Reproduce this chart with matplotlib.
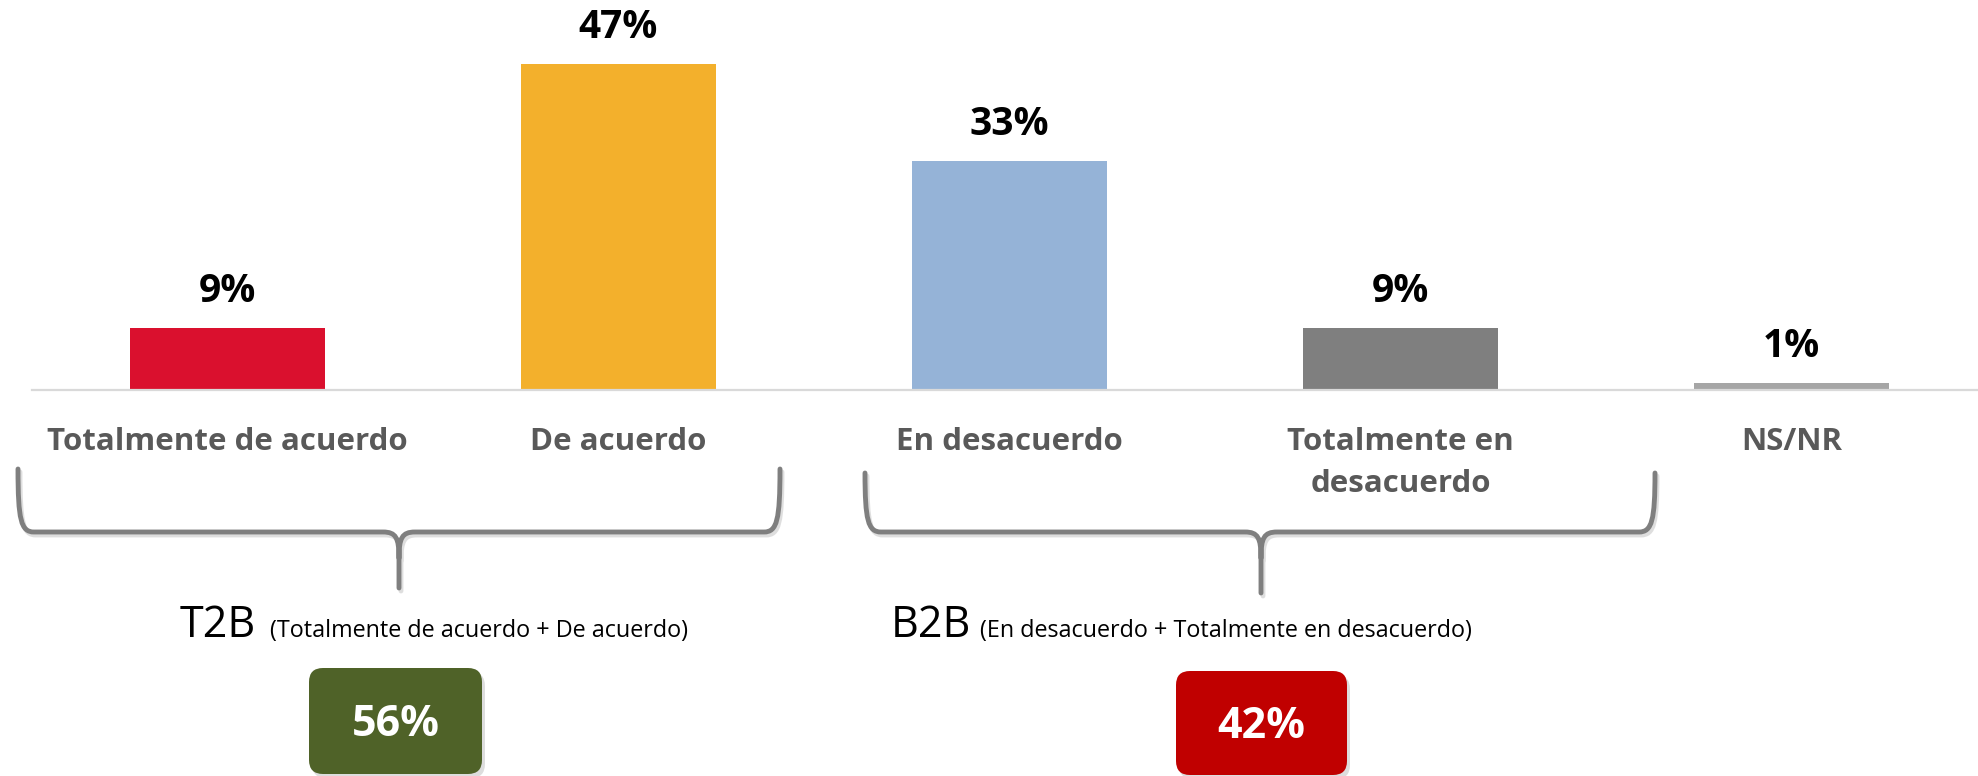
import matplotlib.pyplot as plt
import numpy as np
from matplotlib.path import Path
from matplotlib.patches import PathPatch, FancyBboxPatch

plt.rcParams['font.family'] = ['Open Sans', 'DejaVu Sans']

# ========== 数据 ==========
categories = ['Totalmente de acuerdo', 'De acuerdo', 'En desacuerdo',
              'Totalmente en\ndesacuerdo', 'NS/NR']
values = [9, 47, 33, 9, 1]
bar_colors = ['#DA102E', '#F3B02C', '#95B3D7', '#7F7F7F', '#A6A6A6']

t2b_label = 'T2B'
t2b_note = '(Totalmente de acuerdo + De acuerdo)'
t2b_value = 56
b2b_label = 'B2B'
b2b_note = '(En desacuerdo + Totalmente en desacuerdo)'
b2b_value = 42

W, H = 1978, 776
fig = plt.figure(figsize=(W / 100, H / 100), dpi=100)

# ========== 柱状图 ==========
ax = fig.add_axes([32 / W, (H - 390) / H, 1955 / W, 390 / H])
x = np.arange(len(categories))
bars = ax.bar(x, values, width=0.5, color=bar_colors)
ax.set_xlim(-0.5, 4.5)
ax.set_ylim(0, 390 / 6.94)

for bar, v in zip(bars, values):
    ax.annotate(f'{v}%', (bar.get_x() + bar.get_width() / 2, bar.get_height()),
                xytext=(0, 26), textcoords='offset points',
                ha='center', va='center', fontsize=28, fontweight='bold',
                color='black')

ax.set_xticks(x)
ax.set_xticklabels(categories, fontsize=22.5, fontweight='bold', color='#595959',
                   linespacing=1.5)
ax.tick_params(axis='x', length=0, pad=27)
ax.set_yticks([])
for s in ['top', 'left', 'right']:
    ax.spines[s].set_visible(False)
ax.spines['bottom'].set_color('#D9D9D9')
ax.spines['bottom'].set_linewidth(1.6)
ax.patch.set_visible(False)

# ========== 注释层（像素坐标） ==========
ov = fig.add_axes([0, 0, 1, 1], zorder=-1)
ov.set_xlim(0, W)
ov.set_ylim(H, 0)
ov.axis('off')


def brace(x0, x1, xm, ytop, ymid, ytip):
    verts = [(x0, ytop), (x0, ymid - 12), (x0 + 3, ymid), (x0 + 16, ymid),
             (xm - 16, ymid), (xm - 3, ymid), (xm, ymid + 6), (xm, ymid + 26),
             (xm, ytip),
             (xm, ymid + 26), (xm, ymid + 6), (xm + 3, ymid), (xm + 16, ymid),
             (x1 - 16, ymid), (x1 - 3, ymid), (x1, ymid - 12), (x1, ytop)]
    codes = [Path.MOVETO, Path.CURVE4, Path.CURVE4, Path.CURVE4,
             Path.LINETO, Path.CURVE4, Path.CURVE4, Path.CURVE4,
             Path.LINETO,
             Path.MOVETO, Path.CURVE4, Path.CURVE4, Path.CURVE4,
             Path.LINETO, Path.CURVE4, Path.CURVE4, Path.CURVE4]
    # 阴影
    sv = [(vx + 2, vy + 3) for vx, vy in verts]
    ov.add_patch(PathPatch(Path(sv, codes), fill=False, edgecolor='#BFBFBF',
                           lw=3.5, alpha=0.5, capstyle='round'))
    ov.add_patch(PathPatch(Path(verts, codes), fill=False, edgecolor='#7F7F7F',
                           lw=3.5, capstyle='round', joinstyle='round'))


brace(18, 780, 399, 469, 532, 588)
brace(865, 1655, 1261, 473, 532, 593)

ov.text(180, 637, t2b_label, fontsize=31, color='black', ha='left', va='baseline')
ov.text(270, 637, t2b_note, fontsize=16.8, color='black', ha='left', va='baseline')
ov.text(891, 637, b2b_label, fontsize=31, color='black', ha='left', va='baseline')
ov.text(980, 637, b2b_note, fontsize=16.8, color='black', ha='left', va='baseline')


def value_box(x0, y0, w, h, color, val):
    ov.add_patch(FancyBboxPatch((x0 + 3, y0 + 4), w, h,
                                boxstyle='round,pad=0,rounding_size=14',
                                facecolor='#A0A0A0', edgecolor='none', alpha=0.35))
    ov.add_patch(FancyBboxPatch((x0, y0), w, h,
                                boxstyle='round,pad=0,rounding_size=14',
                                facecolor=color, edgecolor='none'))
    ov.text(x0 + w / 2, y0 + h / 2 + 4, f'{val}%', fontsize=31, fontweight='bold',
            color='white', ha='center', va='center')


value_box(309, 668, 173, 106, '#4F6228', t2b_value)
value_box(1176, 671, 171, 104, '#C00000', b2b_value)

plt.savefig('out.png', dpi=100)
plt.close()
